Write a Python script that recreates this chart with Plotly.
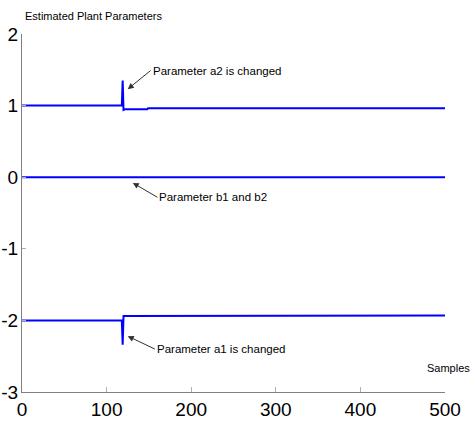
import plotly.graph_objects as go

# Data
samples = [0, 118, 119, 120, 122, 148, 149, 500]
a2_vals = [1.0, 1.0, 1.35, 0.94, 0.95, 0.95, 0.962, 0.962]
b_vals = [0.0, 0.0, 0.0, 0.0, 0.0, 0.0, 0.0, 0.0]
a1_vals = [-2.0, -2.0, -2.34, -1.94, -1.94, -1.94, -1.93, -1.93]

x_ticks = [0, 100, 200, 300, 400, 500]
x_labels = ["0", "100", "200", "300", "400", "500"]
y_ticks = [-3, -2, -1, 0, 1, 2]
y_labels = ["-3", "-2", "-1", "0", "1", "2"]

FONT = "Liberation Sans Narrow, Liberation Sans, Arial, sans-serif"
BLUE = "#0000ff"
AX = "#808080"

def f(size):
    return dict(size=size, family=FONT, color="black")

fig = go.Figure()
for vals in (a2_vals, b_vals, a1_vals):
    fig.add_trace(go.Scatter(x=samples, y=vals, mode="lines",
                             line=dict(color=BLUE, width=2), showlegend=False,
                             hoverinfo="skip"))

fig.update_layout(
    width=471, height=421,
    margin=dict(l=22, r=26, t=34, b=29),
    paper_bgcolor="white", plot_bgcolor="white",
    font=f(12),
    xaxis=dict(range=[0, 500], tickvals=x_ticks, ticktext=x_labels, ticks="inside",
               ticklen=5, tickcolor="#b0b0b0", showline=True, linecolor=AX,
               linewidth=1, showgrid=False, zeroline=False, automargin=False,
               tickfont=f(19)),
    yaxis=dict(range=[-3, 2], tickvals=y_ticks, ticktext=y_labels, ticks="inside",
               ticklen=4, tickcolor="#b0b0b0", showline=True, linecolor=AX,
               linewidth=1, showgrid=False, zeroline=False, automargin=False,
               tickfont=f(19), ticklabelstandoff=-1),
)

# Title top-left
fig.add_annotation(text="Estimated Plant Parameters", xref="paper", yref="paper",
                   x=0, y=1, xanchor="left", yanchor="bottom", yshift=10, xshift=1,
                   showarrow=False, font=f(11))
# Axis label
fig.add_annotation(text="Samples", xref="paper", yref="paper",
                   x=1, y=0, xanchor="left", yanchor="bottom", xshift=-20, yshift=16,
                   showarrow=False, font=f(11))

def arrow(text, x, y, ax, ay):
    fig.add_annotation(text=text, x=x, y=y, xref="x", yref="y",
                       ax=ax, ay=ay, axref="x", ayref="y",
                       showarrow=True, arrowhead=2, arrowsize=1.2, arrowwidth=1,
                       arrowcolor="#303030", xanchor="left", yanchor="middle",
                       font=f(11.5))

arrow("Parameter a2 is changed", 125, 1.23, 152, 1.49)
arrow("Parameter b1 and b2", 131, -0.08, 160, -0.28)
arrow("Parameter a1 is changed", 125, -2.22, 157, -2.40)

# remove the default page margin so the 471x421 figure fills the window exactly
fig.write_html("out.html", config={"displayModeBar": False},
               post_script="document.body.style.margin='0';document.body.style.overflow='hidden';")
